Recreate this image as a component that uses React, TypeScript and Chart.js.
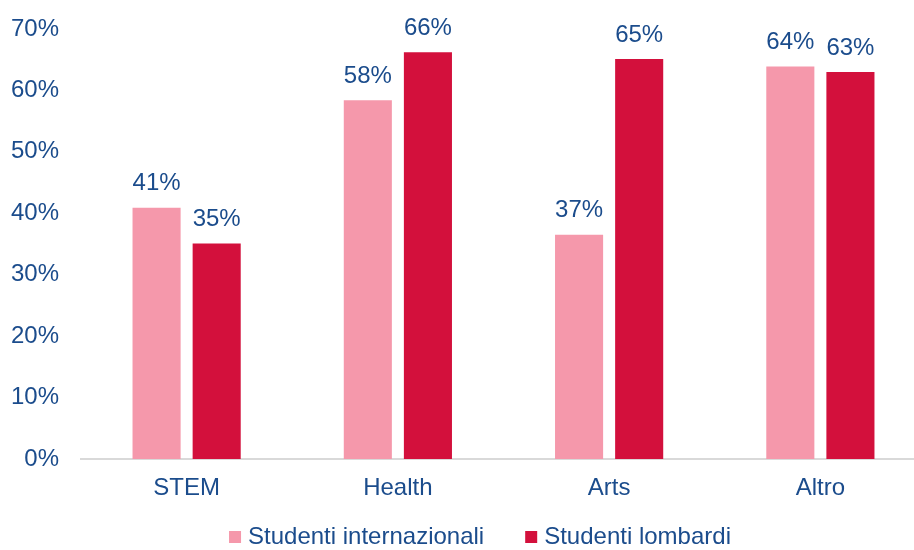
import React, { useEffect, useRef } from "react";
import { Chart, registerables } from "chart.js";

Chart.register(...registerables);

const categories = ["STEM", "Health", "Arts", "Altro"];
const seriesNames = ["Studenti internazionali", "Studenti lombardi"];
const internazionali = [40.9, 58.4, 36.5, 63.9];
const lombardi = [35.1, 66.2, 65.1, 63.0];
const yTicksMax = 70;
const yTicksStep = 10;

const PINK = "#F598AB";
const RED = "#D3103C";
const BLUE = "#1B4C8C";
const FONT_FAMILY = "'Liberation Sans', Arial, sans-serif";
const FONT_SIZE = 24;

const valueLabels = {
  id: "valueLabels",
  afterDatasetsDraw(chart: any) {
    const ctx = chart.ctx;
    ctx.save();
    ctx.font = `${FONT_SIZE}px ${FONT_FAMILY}`;
    ctx.fillStyle = BLUE;
    ctx.textAlign = "center";
    ctx.textBaseline = "middle";
    chart.data.datasets.forEach((ds: any, i: number) => {
      const meta = chart.getDatasetMeta(i);
      meta.data.forEach((el: any, j: number) => {
        ctx.fillText(Math.round(ds.data[j]) + "%", el.x, el.y - 24);
      });
    });
    ctx.restore();
  },
};

const customLegend = {
  id: "customLegend",
  afterDraw(chart: any) {
    const ctx = chart.ctx;
    ctx.save();
    ctx.font = `${FONT_SIZE}px ${FONT_FAMILY}`;
    ctx.textBaseline = "middle";
    ctx.textAlign = "left";
    const box = 12;
    const gapText = 7;
    const gapItems = 41;
    const widths = chart.data.datasets.map((ds: any) => ctx.measureText(ds.label).width);
    const total =
      widths.reduce((a: number, w: number) => a + w, 0) +
      chart.data.datasets.length * (box + gapText) +
      (chart.data.datasets.length - 1) * gapItems;
    const centerX = 480;
    const cy = 537;
    let x = centerX - total / 2;
    chart.data.datasets.forEach((ds: any, i: number) => {
      ctx.fillStyle = ds.backgroundColor;
      ctx.fillRect(x, cy - box / 2, box, box);
      x += box + gapText;
      ctx.fillStyle = BLUE;
      ctx.fillText(ds.label, x, cy);
      x += widths[i] + gapItems;
    });
    ctx.restore();
  },
};

export default function App() {
  const canvasRef = useRef<HTMLCanvasElement | null>(null);

  useEffect(() => {
    if (!canvasRef.current) return;
    const chart = new Chart(canvasRef.current, {
      type: "bar",
      data: {
        labels: categories,
        datasets: [
          {
            label: seriesNames[0],
            data: internazionali,
            backgroundColor: PINK,
            categoryPercentage: 0.569,
            barPercentage: 0.8,
          },
          {
            label: seriesNames[1],
            data: lombardi,
            backgroundColor: RED,
            categoryPercentage: 0.569,
            barPercentage: 0.8,
          },
        ],
      },
      options: {
        responsive: false,
        animation: false,
        layout: { padding: { top: 29, left: 0, right: 0, bottom: 0 } },
        plugins: {
          legend: { display: false },
          tooltip: { enabled: false },
        },
        scales: {
          x: {
            grid: { display: false, drawTicks: false },
            border: { display: true, color: "#D9D9D9", width: 2 },
            ticks: {
              color: BLUE,
              font: { size: FONT_SIZE, family: FONT_FAMILY },
              padding: 15,
              maxRotation: 0,
            },
            afterFit: (s: any) => {
              s.height = 91;
              s.paddingLeft = 0;
              s.paddingRight = 0;
            },
          },
          y: {
            min: 0,
            max: yTicksMax,
            grid: { display: false, drawTicks: false },
            border: { display: false },
            ticks: {
              stepSize: yTicksStep,
              color: BLUE,
              font: { size: FONT_SIZE, family: FONT_FAMILY },
              padding: 22,
              callback: (v: any) => v + "%",
            },
            afterFit: (s: any) => {
              s.width = 81;
              s.paddingTop = 0;
              s.paddingBottom = 0;
            },
          },
        },
      },
      plugins: [valueLabels, customLegend],
    });
    return () => chart.destroy();
  }, []);

  return (
    <div
      style={{
        position: "fixed",
        left: 0,
        top: 0,
        width: 914,
        height: 550,
        overflow: "hidden",
        background: "#fff",
      }}
    >
      <canvas ref={canvasRef} width={926} height={550} style={{ display: "block" }} />
    </div>
  );
}
